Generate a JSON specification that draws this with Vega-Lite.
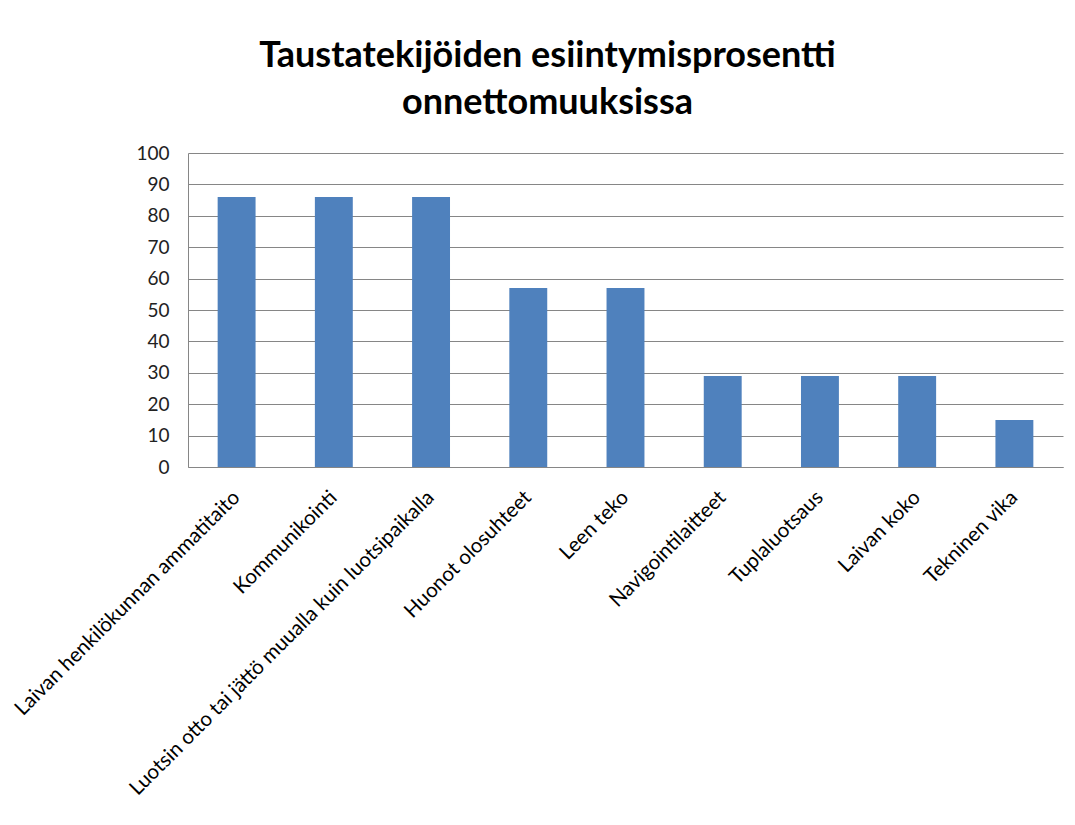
{
  "$schema": "https://vega.github.io/schema/vega-lite/v6.json",
  "width": 875,
  "height": 314,
  "autosize": {"type": "none"},
  "padding": {"left": 188, "top": 153, "right": 12, "bottom": 358},
  "background": "white",
  "title": {
    "text": ["Taustatekijöiden esiintymisprosentti", "onnettomuuksissa"],
    "font": "Lato",
    "fontSize": 36,
    "fontWeight": "bold",
    "color": "#000000",
    "anchor": "middle",
    "frame": "group",
    "dx": -78,
    "offset": 22,
    "lineHeight": 47
  },
  "data": {
    "values": [
      {"tekija": "Laivan henkilökunnan ammatitaito", "prosentti": 86},
      {"tekija": "Kommunikointi", "prosentti": 86},
      {"tekija": "Luotsin otto tai jättö muualla kuin luotsipaikalla", "prosentti": 86},
      {"tekija": "Huonot olosuhteet", "prosentti": 57},
      {"tekija": "Leen teko", "prosentti": 57},
      {"tekija": "Navigointilaitteet", "prosentti": 29},
      {"tekija": "Tuplaluotsaus", "prosentti": 29},
      {"tekija": "Laivan koko", "prosentti": 29},
      {"tekija": "Tekninen vika", "prosentti": 15}
    ]
  },
  "mark": {"type": "bar", "color": "#4F81BD"},
  "encoding": {
    "x": {
      "field": "tekija",
      "type": "nominal",
      "sort": null,
      "title": null,
      "scale": {"paddingInner": 0.61, "paddingOuter": 0.305},
      "axis": {
        "labelAngle": -45,
        "labelAlign": "right",
        "labelBaseline": "middle",
        "labelPadding": 27,
        "labelFont": "Lato",
        "labelFontSize": 20.5,
        "labelColor": "#000000",
        "labelLimit": 700,
        "ticks": false,
        "domainColor": "#868686",
        "domainWidth": 1
      }
    },
    "y": {
      "field": "prosentti",
      "type": "quantitative",
      "title": null,
      "scale": {"domain": [0, 100]},
      "axis": {
        "values": [0, 10, 20, 30, 40, 50, 60, 70, 80, 90, 100],
        "labelFont": "Lato",
        "labelFontSize": 19,
        "labelColor": "#222222",
        "labelPadding": 19,
        "ticks": false,
        "domainColor": "#868686",
        "gridColor": "#868686",
        "gridWidth": 1
      }
    }
  },
  "config": {
    "view": {"stroke": null},
    "axis": {"gridOpacity": 1}
  }
}
